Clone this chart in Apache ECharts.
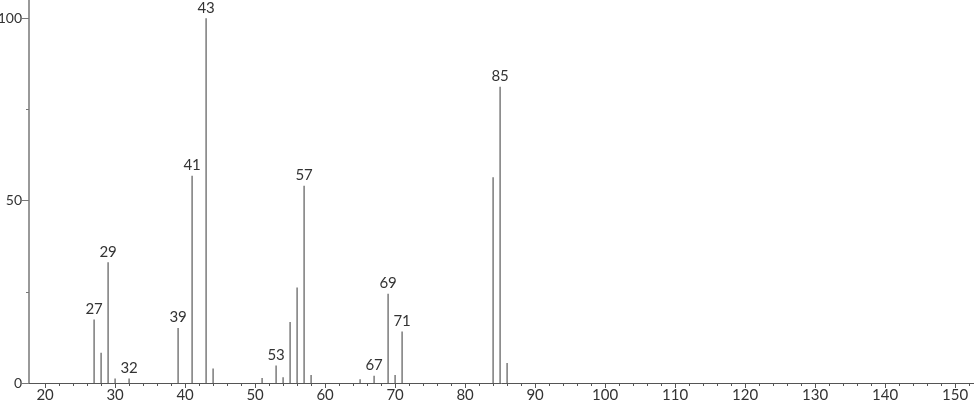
<!DOCTYPE html>
<html>
<head>
<meta charset="utf-8">
<script src="https://cdn.jsdelivr.net/npm/echarts@6/dist/echarts.min.js"></script>
<style>
html,body{margin:0;padding:0;background:#fff;}
#chart{width:974px;height:406px;}
</style>
</head>
<body>
<div id="chart"></div>
<script>
const masses      = [27, 28, 29, 30, 32, 39, 41, 43, 44, 51, 53, 54, 55, 56, 57, 58, 65, 67, 69, 70, 71, 84, 85, 86];
const intensities = [17.4, 8.3, 33.1, 1.2, 1.2, 15.1, 56.8, 100, 4.0, 1.4, 4.8, 1.6, 16.7, 26.2, 54.1, 2.2, 1.0, 2.0, 24.5, 2.2, 14.1, 56.4, 81.2, 5.5];
const labeledMasses = [27, 29, 32, 39, 41, 43, 53, 57, 67, 69, 71, 85];
const xTicks = [20, 30, 40, 50, 60, 70, 80, 90, 100, 110, 120, 130, 140, 150];
const xMinorTicks = [22, 24, 26, 28, 32, 34, 36, 38, 42, 44, 46, 48, 52, 54, 56, 58, 62, 64, 66, 68, 72, 74, 76, 78, 82, 84, 86, 88, 92, 94, 96, 98, 102, 104, 106, 108, 112, 114, 116, 118, 122, 124, 126, 128, 132, 134, 136, 138, 142, 144, 146, 148, 152];
const yTicks = [0, 50, 100];
const yMinorTicks = [25, 75];

const FONT = 'Lato, "DejaVu Sans", sans-serif';
const chart = echarts.init(document.getElementById('chart'), null, {renderer: 'canvas'});
const X_MIN = 17.7, X_MAX = 152.7, Y_MIN = 0, Y_MAX = 105;

chart.setOption({
  animation: false,
  grid: {left: 29, right: 0, top: 0, bottom: 23, containLabel: false, outerBoundsMode: 'none'},
  xAxis: [{
    type: 'value', min: X_MIN, max: X_MAX, position: 'bottom',
    axisLine: {show: true, onZero: false, lineStyle: {color: '#555', width: 1}},
    axisTick: {show: true, length: 5, customValues: xTicks, lineStyle: {color: '#555'}},
    axisLabel: {show: true, customValues: xTicks, color: '#333', fontSize: 15, fontFamily: FONT, margin: 5},
    splitLine: {show: false}
  }, {
    type: 'value', min: X_MIN, max: X_MAX, position: 'bottom',
    axisLine: {show: false},
    axisTick: {show: true, length: 3, customValues: xMinorTicks, lineStyle: {color: '#555'}},
    axisLabel: {show: false},
    splitLine: {show: false}
  }],
  yAxis: [{
    type: 'value', min: Y_MIN, max: Y_MAX, position: 'left',
    axisLine: {show: true, onZero: false, lineStyle: {color: '#999', width: 2}},
    axisTick: {show: true, length: 7, customValues: yTicks, lineStyle: {color: '#777'}},
    axisLabel: {show: true, customValues: yTicks, color: '#333', fontSize: 14, fontFamily: FONT, margin: 7},
    splitLine: {show: false}
  }, {
    type: 'value', min: Y_MIN, max: Y_MAX, position: 'left',
    axisLine: {show: false},
    axisTick: {show: true, length: 3, customValues: yMinorTicks, lineStyle: {color: '#777'}},
    axisLabel: {show: false},
    splitLine: {show: false}
  }],
  series: [{
    type: 'bar',
    xAxisIndex: 0, yAxisIndex: 0,
    barWidth: 1.4,
    data: masses.map((m, i) => [m, intensities[i]]),
    itemStyle: {color: '#707070'},
    label: {
      show: true, position: 'top', distance: 3,
      color: '#333', fontSize: 15, fontFamily: FONT,
      formatter: p => labeledMasses.includes(p.value[0]) ? String(p.value[0]) : ''
    }
  }]
});
</script>
</body>
</html>
